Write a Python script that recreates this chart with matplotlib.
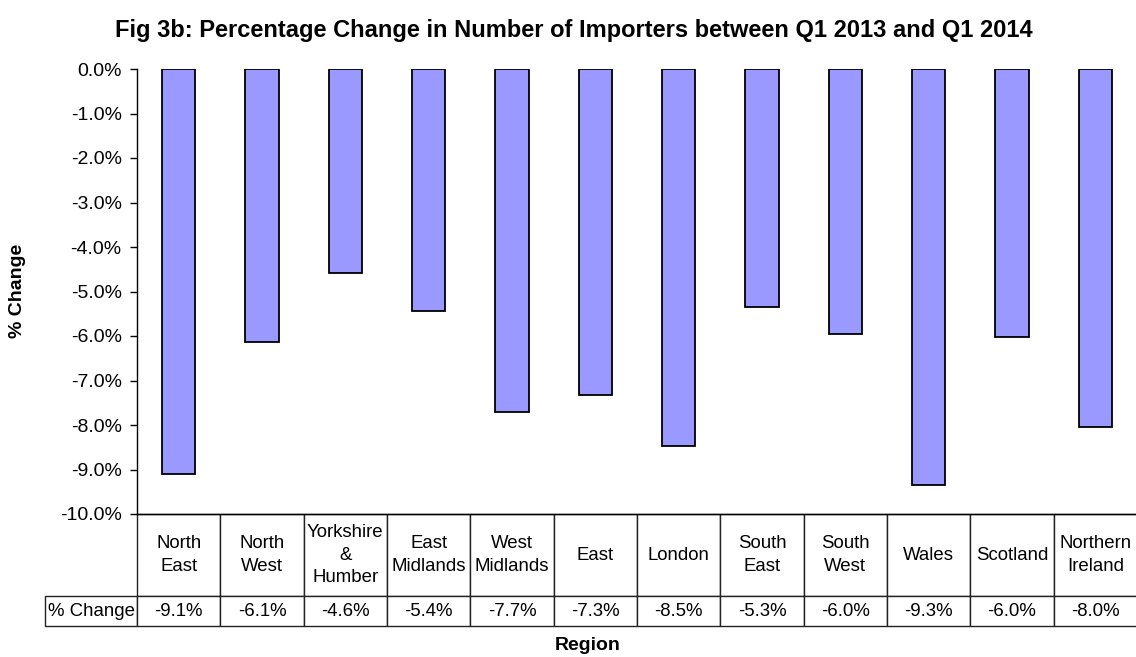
import matplotlib.pyplot as plt
from matplotlib.ticker import FuncFormatter

plt.rcParams['font.family'] = ['Liberation Sans', 'DejaVu Sans']

# Regions and percentage change in number of importers, Q1 2013 to Q1 2014
regions = ['North\nEast', 'North\nWest', 'Yorkshire\n&\nHumber', 'East\nMidlands',
           'West\nMidlands', 'East', 'London', 'South\nEast', 'South\nWest',
           'Wales', 'Scotland', 'Northern\nIreland']
pct_change = [-9.10, -6.14, -4.58, -5.44, -7.70, -7.33, -8.47, -5.34, -5.96,
              -9.34, -6.02, -8.04]
y_ticks = [0, -1, -2, -3, -4, -5, -6, -7, -8, -9, -10]

W, H = 1136, 657
fig = plt.figure(figsize=(W / 100, H / 100), dpi=100)
ax_w, ax_h = 1000, 445
ax = fig.add_axes([137 / W, (H - 514) / H, ax_w / W, ax_h / H])

x = list(range(len(regions)))
ax.bar(x, pct_change, width=0.4, color='#9999FF', edgecolor='black', linewidth=1.3)
ax.set_xlim(-0.5, len(regions) - 0.5)
ax.set_ylim(-10, 0)
ax.set_yticks(y_ticks)
ax.yaxis.set_major_formatter(FuncFormatter(lambda v, p: f'{v:.1f}%'))
ax.tick_params(axis='y', labelsize=14, length=5, width=1, pad=6)
ax.set_xticks([])
for s in ['top', 'right']:
    ax.spines[s].set_visible(False)
for s in ['left', 'bottom']:
    ax.spines[s].set_linewidth(1)

# data table under the bars (bbox covers the data columns, row label hangs left)
cell_text = [[f'{v:.1f}%' for v in pct_change]]
row_w = 102 / ax_w
col_w = 1 / len(regions)
head_h, val_h = 82 / ax_h, 30 / ax_h
tab = ax.table(cellText=cell_text, rowLabels=['% Change'], colLabels=regions,
               cellLoc='center', rowLoc='left',
               bbox=[0, -(head_h + val_h), 1, head_h + val_h])
tab.auto_set_font_size(False)
tab.set_fontsize(13.4)
for (r, c), cell in tab.get_celld().items():
    cell.set_linewidth(1)
    cell.set_edgecolor('#222222')
    cell.set_width(row_w if c == -1 else col_w)
    cell.set_height(head_h if r == 0 else val_h)
    cell.get_text().set_linespacing(1.45)
    if c == -1:
        cell.PAD = 0.03

fig.text(574 / W, 1 - 31 / H,
         'Fig 3b: Percentage Change in Number of Importers between Q1 2013 and Q1 2014',
         ha='center', va='center', fontsize=17, fontweight='bold')
fig.text(18 / W, 1 - 291 / H, '% Change', rotation=90, ha='center', va='center',
         fontsize=14, fontweight='bold')
fig.text(588 / W, 1 - 645 / H, 'Region', ha='center', va='center',
         fontsize=14, fontweight='bold')

fig.savefig('out.png', dpi=100)
